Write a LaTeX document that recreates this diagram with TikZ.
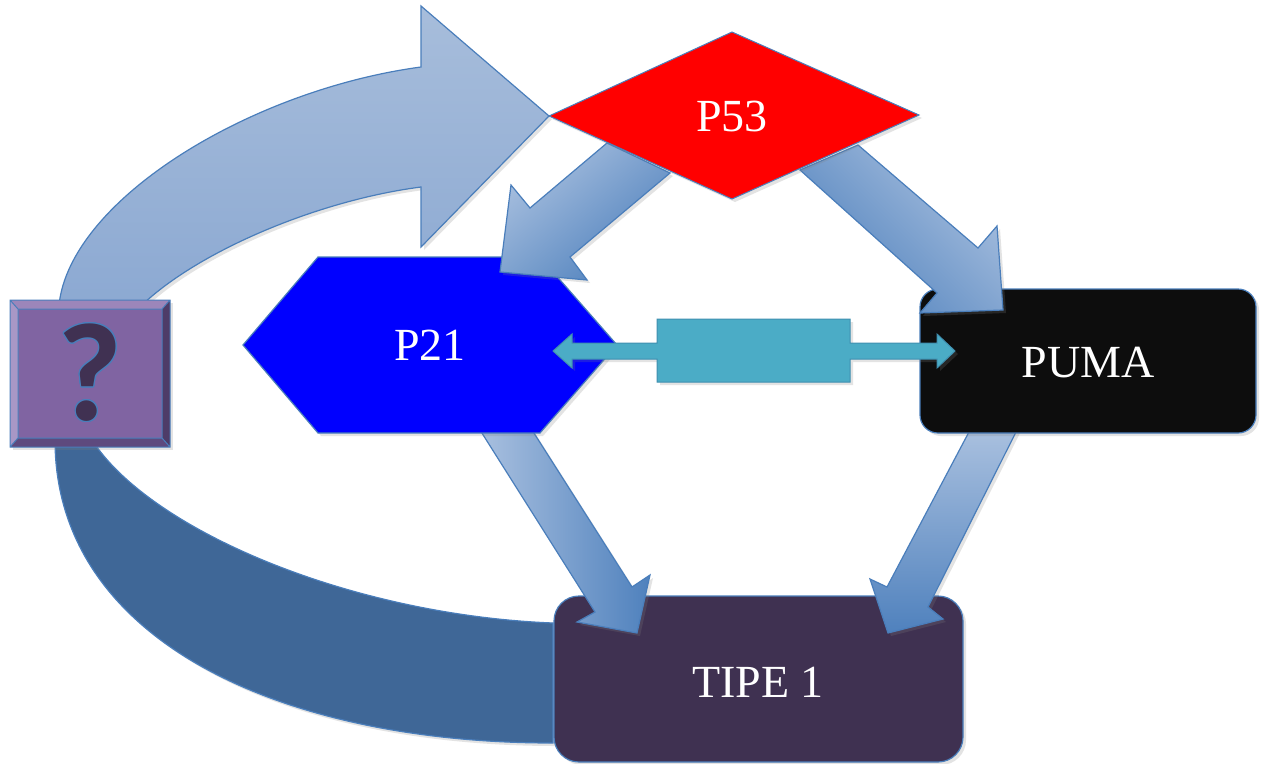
\documentclass[tikz,border=0pt]{standalone}
\usepackage{fontspec}
\usepackage{contour}
\setmainfont{Liberation Serif}
\newfontfamily\qfont{Carlito}
\usetikzlibrary{shadows}
\definecolor{edgeblue}{HTML}{4A7EBB}
\definecolor{lighttop}{HTML}{A7BDDB}
\definecolor{lightbot}{HTML}{8CA9D2}
\definecolor{bandblue}{HTML}{3F6797}
\definecolor{tipefill}{HTML}{3F3151}
\definecolor{pumafill}{HTML}{0D0D0D}
\definecolor{gradlight}{HTML}{A9C0DF}
\definecolor{graddark}{HTML}{4F81BD}
\definecolor{qbox}{HTML}{8064A2}
\definecolor{qtop}{HTML}{9C86BA}
\definecolor{qleft}{HTML}{A897C6}
\definecolor{qright}{HTML}{4E3C68}
\definecolor{qbottom}{HTML}{5E4A7E}
\definecolor{qmark}{HTML}{403152}
\definecolor{cyanarrow}{HTML}{4BACC6}
\definecolor{cyanedge}{HTML}{3F8FB0}
\contourlength{1.1pt}
\contournumber{24}
\tikzset{
  outl/.style={draw=edgeblue, line width=1.2pt, line join=miter},
  shad/.style={drop shadow={opacity=0.22, shadow xshift=3pt, shadow yshift=-3pt}},
  lbl/.style={text=white, font=\fontsize{46}{46}\selectfont, inner sep=0pt},
}
\begin{document}
\begin{tikzpicture}[x=1pt, y=-1pt]
\useasboundingbox (0,0) rectangle (1266,763);
\fill[white] (0,0) rectangle (1266,763);

% light curved arrow from ? to P53
\path[outl, shad, top color=lighttop, bottom color=lightbot]
  (59,305) .. controls (70,200) and (250,90) .. (421,67) -- (421,6) -- (549,116)
  -- (421,247) -- (421,187) .. controls (320,200) and (200,250) .. (142,305) -- cycle;

% dark curved band from ? to TIPE 1
\path[outl, shad, fill=bandblue]
  (55,440) .. controls (55,640) and (280,743) .. (553,743) -- (553,623)
  .. controls (350,615) and (150,530) .. (92,440) -- cycle;

% TIPE 1 box
\path[outl, shad, fill=tipefill, rounded corners=25pt] (554,596) rectangle (963,762);
\node[lbl] (tipe) at (758,682) {TIPE 1};

% arrows into TIPE 1
\path[outl, shad, left color=gradlight, right color=graddark]
  (480,430) -- (595,612) -- (577,622) -- (637,633) -- (650,575) -- (632,587) -- (532,430) -- cycle;
\path[outl, shad, top color=gradlight, bottom color=graddark]
  (970,430) -- (887,587) -- (870,579) -- (888,633) -- (943,619) -- (928,607) -- (1017,430) -- cycle;

% PUMA box
\path[outl, shad, fill=pumafill, rounded corners=18pt] (920,289) rectangle (1256,433);
\node[lbl] (puma) at (1088,363) {PUMA};

% P21 hexagon
\path[outl, shad, fill=blue] (243,345) -- (318,257) -- (540,257) -- (617,345) -- (540,433) -- (318,433) -- cycle;
\node[lbl] (p21) at (430,345) {P21};

% arrows from P53
\path[outl, shad, top color=gradlight, bottom color=graddark, shading angle=40]
  (607,143) -- (530,208) -- (511,185) -- (500,272) -- (587,280) -- (570,257) -- (670,173) -- cycle;
\path[outl, shad, top color=gradlight, bottom color=graddark, shading angle=-45]
  (858,145) -- (978,248) -- (997,226) -- (1003,310) -- (920,313) -- (937,293) -- (800,170) -- cycle;

% P53 diamond
\path[outl, shad, fill=red, line width=1pt] (549,116) -- (732,32) -- (919,115) -- (732,199) -- cycle;
\node[lbl] (p53) at (732,116) {P53};

% question box with bevel
\path[shad, fill=qbox] (10,300) rectangle (170,447);
\fill[qtop] (10,300) -- (170,300) -- (162,309) -- (18,309) -- cycle;
\fill[qleft] (10,300) -- (18,309) -- (18,438) -- (10,447) -- cycle;
\fill[qright] (170,300) -- (170,447) -- (162,438) -- (162,309) -- cycle;
\fill[qbottom] (10,447) -- (170,447) -- (162,438) -- (18,438) -- cycle;
\draw[draw=edgeblue, line width=1pt] (10,300) rectangle (170,447) (18,309) rectangle (162,438)
  (10,300) -- (18,309) (170,300) -- (162,309) (170,447) -- (162,438) (10,447) -- (18,438);
\node[text=qmark, font=\qfont\bfseries\fontsize{140}{140}\selectfont, inner sep=0pt] (q) at (90,373) {\contour{edgeblue}{?}};

% double arrow between P21 and PUMA
\path[draw=cyanedge, line width=1pt, fill=cyanarrow, shad]
  (553,351) -- (572,334) -- (572,343) -- (657,343) -- (657,319) -- (850,319) -- (850,343)
  -- (937,343) -- (937,334) -- (955,351) -- (937,368) -- (937,359) -- (850,359) -- (850,382)
  -- (657,382) -- (657,359) -- (572,359) -- (572,368) -- cycle;
\end{tikzpicture}
\end{document}
